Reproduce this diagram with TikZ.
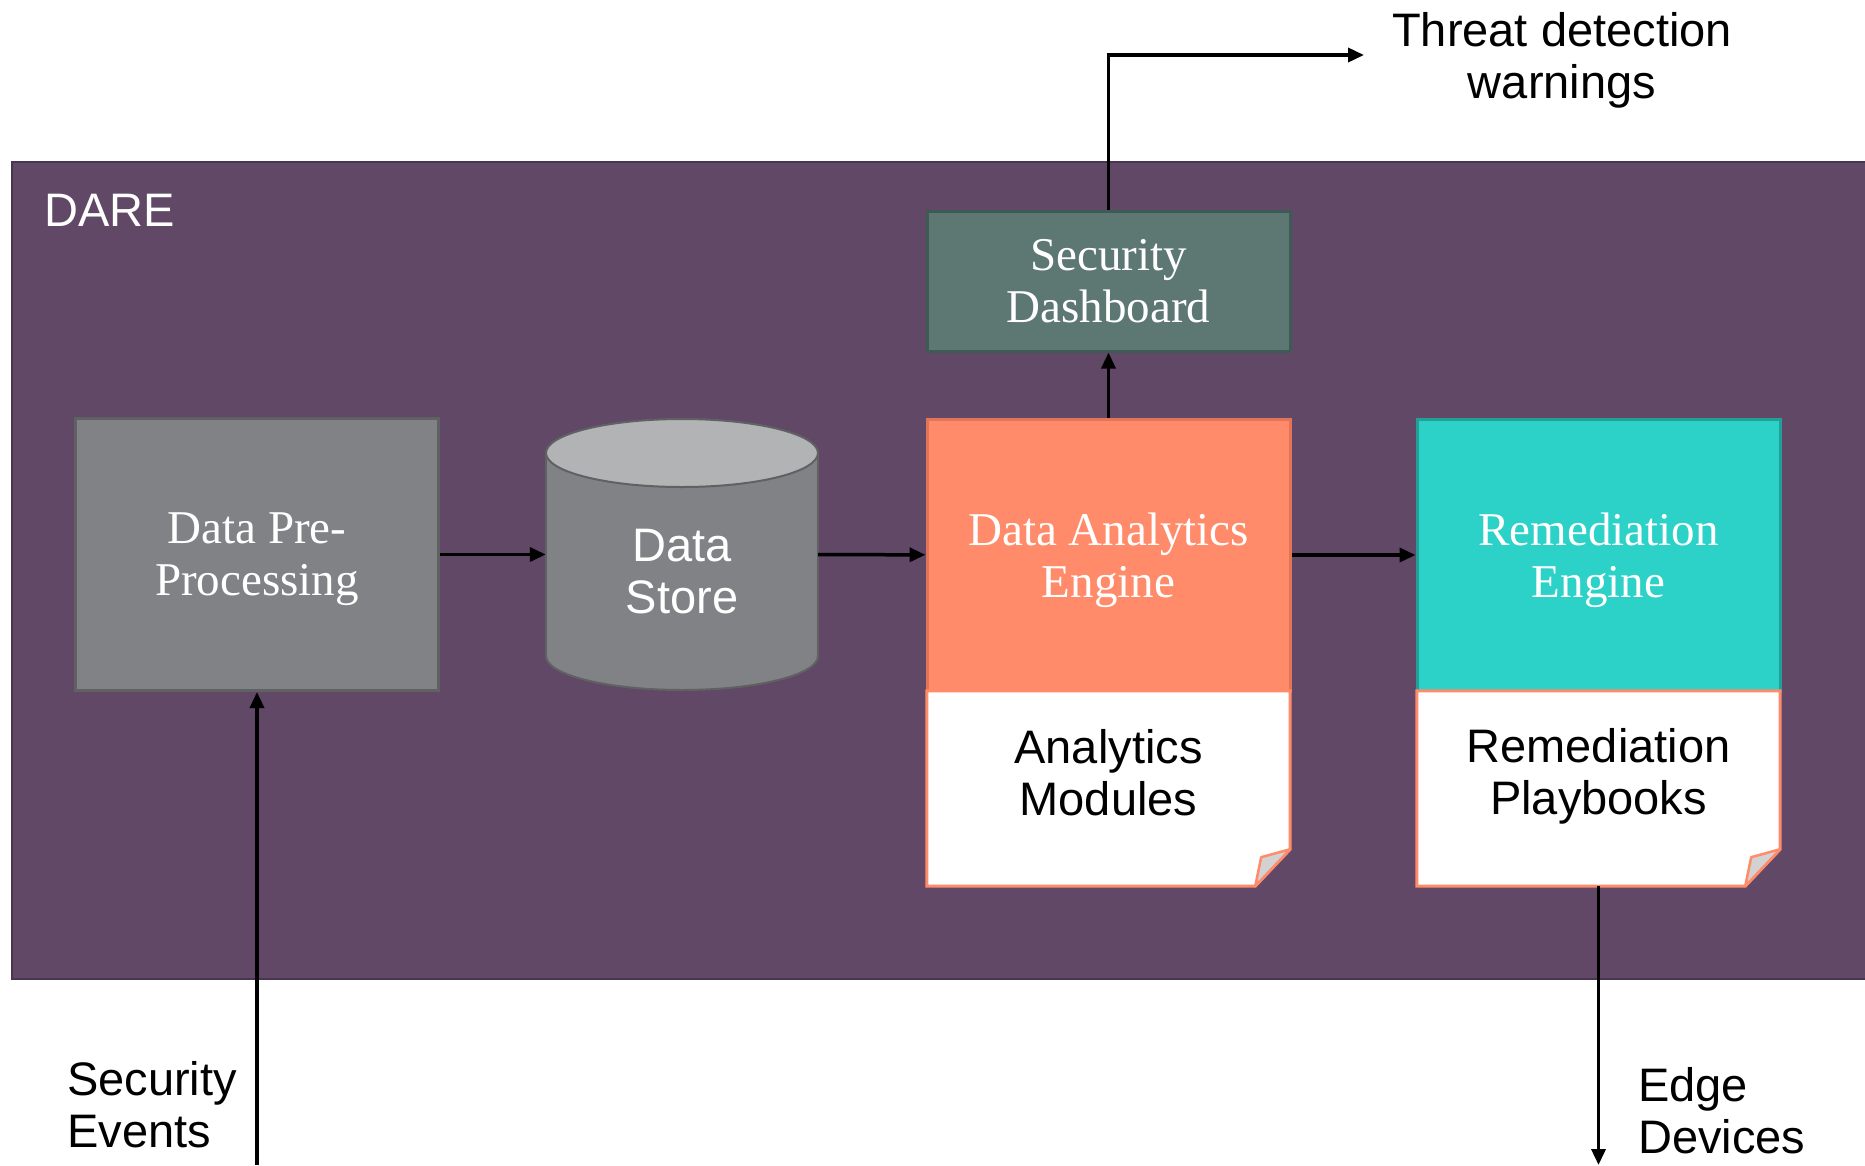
\documentclass[tikz,border=0pt]{standalone}
\usepackage{fontspec}
\setmainfont{Liberation Serif}
\newfontfamily\arialf{Liberation Sans}
\usetikzlibrary{arrows.meta}
\usetikzlibrary{positioning}

\definecolor{darepurple}{RGB}{96,72,102}
\definecolor{dareedge}{RGB}{72,54,80}
\definecolor{pregray}{RGB}{129,130,133}
\definecolor{preedge}{RGB}{96,97,99}
\definecolor{cyltop}{RGB}{178,179,181}
\definecolor{salmon}{RGB}{255,139,106}
\definecolor{salmonedge}{RGB}{226,116,88}
\definecolor{remteal}{RGB}{44,209,200}
\definecolor{remedge}{RGB}{34,160,152}
\definecolor{dashgreen}{RGB}{93,119,114}
\definecolor{dashedge}{RGB}{62,90,84}
\definecolor{foldgray}{RGB}{210,210,210}

\begin{document}
\begin{tikzpicture}[x=1pt,y=-1pt,
  box/.style={rectangle,minimum width=363pt,minimum height=272pt,line width=3pt,inner sep=0pt,
    text=white,align=center,text depth=0pt,font=\fontsize{47}{52}\selectfont},
  modbox/.style={rectangle,minimum width=363pt,minimum height=195pt,inner sep=0pt},
  modline/.style={fill=white,draw=salmon,line width=3pt,line join=miter},
  fold/.style={fill=foldgray,draw=salmon,line width=2.5pt,line join=round},
  plain/.style={font=\arialf\fontsize{47}{52}\selectfont,align=center,inner sep=0pt},
  conn/.style={line width=3.5pt,-{Triangle[length=16pt,width=14pt]}}]
\useasboundingbox (0,0) rectangle (1865,1165);
\fill[white] (0,0) rectangle (1865,1165);

% DARE frame
\draw[fill=darepurple,draw=dareedge,line width=2pt] (12,162) rectangle (1872,979);
\node[plain,text=white,anchor=west] (dare) at (44,210) {DARE};

% pre-processing
\node[box,fill=pregray,draw=preedge] (pre) at (257,554.5) {Data Pre-\\Processing};

% data store
\draw[fill=pregray,draw=preedge,line width=2pt] (682,656) ellipse [x radius=136pt,y radius=34pt];
\fill[pregray] (546,453) rectangle (818,656);
\draw[preedge,line width=2pt] (546,453) -- (546,656) (818,453) -- (818,656);
\draw[fill=cyltop,draw=preedge,line width=2pt] (682,453) ellipse [x radius=136pt,y radius=34pt];
\node[modbox,minimum width=272pt,minimum height=271pt] (store) at (682,554.5) {};
\node[plain,text=white] (storetxt) at (682,572) {Data\\Store};

% analytics engine
\node[box,fill=salmon,draw=salmonedge] (dae) at (1108.5,555) {Data Analytics\\Engine};
\node[modbox] (daemod) at (1108.5,788.5) {};
\draw[modline] (daemod.north west) -- (daemod.north east) -- ([yshift=37pt]daemod.south east)
  -- ([xshift=-35pt]daemod.south east) -- (daemod.south west) -- cycle;
\draw[fold] ([yshift=37pt]daemod.south east) -- ([xshift=-29pt,yshift=29pt]daemod.south east)
  -- ([xshift=-35pt]daemod.south east) -- cycle;
\node[plain] (daetxt) at (1108.5,773) {Analytics\\Modules};

% dashboard
\node[box,minimum height=140pt,fill=dashgreen,draw=dashedge] (dash) at (1108.5,281) {Security\\Dashboard};

% remediation engine
\node[box,fill=remteal,draw=remedge] (rem) at (1598.5,555) {Remediation\\Engine};
\node[modbox] (remmod) at (1598.5,788.5) {};
\draw[modline] (remmod.north west) -- (remmod.north east) -- ([yshift=37pt]remmod.south east)
  -- ([xshift=-35pt]remmod.south east) -- (remmod.south west) -- cycle;
\draw[fold] ([yshift=37pt]remmod.south east) -- ([xshift=-29pt,yshift=29pt]remmod.south east)
  -- ([xshift=-35pt]remmod.south east) -- cycle;
\node[plain] (remtxt) at (1598.5,776) {Remediation\\Playbooks};

% outside texts
\node[plain] (warntxt) at (1562,60) {Threat detection\\warnings};
\node[plain,align=left,anchor=west] (evttxt) at (67,1105) {Security\\Events};
\node[plain,align=left,anchor=west] (edgetxt) at (1638,1111) {Edge\\Devices};
\coordinate (warn) at (1364,55);
\coordinate (evt) at (257,1165);
\coordinate (edge) at (1598.5,1165);

% connectors
\draw[conn] (pre) -- (store);
\draw[conn] (store) -- (dae);
\draw[conn] (dae) -- (rem);
\draw[conn] (dae) -- (dash);
\draw[conn] (dash.north) |- (warn);
\draw[conn] (evt) -- (pre);
\draw[conn] (remmod.south) -- (edge);

\end{tikzpicture}
\end{document}
